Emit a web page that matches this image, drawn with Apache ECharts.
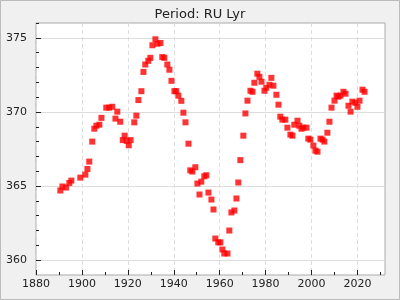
<!DOCTYPE html>
<html>
<head>
<meta charset="utf-8">
<script src="https://cdn.jsdelivr.net/npm/echarts@6/dist/echarts.min.js"></script>
<style>
html,body{margin:0;padding:0;background:#f0f0f0;}
#c{width:400px;height:300px;}
</style>
</head>
<body>
<div id="c"></div>
<script>
const titleText = "Period: RU Lyr";
const years = [1890.6,1891.5,1893.1,1894.5,1895.4,1899.3,1901.5,1902.4,1903.2,1904.5,1905.4,1906.3,1907.6,1908.5,1910.6,1911.9,1913.2,1914.6,1915.4,1916.7,1917.8,1918.6,1919.5,1920.4,1921.2,1922.8,1923.7,1924.6,1925.9,1926.8,1927.6,1928.9,1929.8,1930.7,1932.0,1932.9,1934.2,1935.0,1935.9,1937.2,1938.1,1939.0,1940.3,1941.1,1942.0,1943.3,1944.2,1945.1,1946.4,1947.2,1948.1,1949.4,1950.3,1951.2,1952.0,1953.3,1954.2,1955.1,1956.4,1957.3,1958.1,1959.4,1960.3,1961.2,1962.0,1963.4,1964.2,1965.1,1966.4,1967.3,1968.1,1969.0,1970.3,1971.2,1972.1,1973.4,1974.3,1975.1,1976.4,1977.3,1978.2,1979.5,1980.3,1981.7,1982.5,1983.4,1984.7,1985.6,1986.4,1987.3,1988.6,1989.5,1990.8,1991.7,1992.5,1993.9,1994.7,1995.6,1996.4,1997.8,1998.6,1999.5,2000.8,2001.7,2002.6,2003.9,2004.8,2005.6,2006.9,2007.8,2008.7,2010.0,2010.9,2011.7,2012.6,2013.9,2014.8,2016.1,2017.0,2017.8,2019.1,2020.0,2020.9,2022.2,2023.1];
const periods = [364.70,364.97,364.90,365.21,365.37,365.57,365.77,366.15,366.65,368.0,368.87,369.07,369.14,369.6,370.29,370.29,370.35,369.55,370.02,369.34,368.1,368.4,368.05,367.75,368.1,369.3,369.75,370.8,371.4,372.7,373.2,373.45,373.65,374.5,374.9,374.6,374.65,373.7,373.65,373.2,372.85,372.1,371.4,371.4,371.1,370.75,369.95,369.3,367.86,366.06,365.98,366.27,365.17,364.43,365.3,365.66,365.73,364.56,364.09,363.42,361.46,361.2,361.2,360.72,360.45,360.45,362.0,363.22,363.35,364.16,365.24,366.75,368.4,369.9,370.76,371.43,371.36,371.97,372.58,372.37,372.04,371.43,371.63,371.83,372.3,371.77,371.16,370.49,369.68,369.48,369.48,368.94,368.47,368.4,369.14,369.41,369.07,368.87,368.94,368.94,368.2,368.13,367.73,367.39,367.32,368.2,368.13,368.0,368.6,369.34,370.29,370.76,371.1,371.03,371.1,371.36,371.23,370.42,370.02,370.69,370.62,370.35,370.76,371.5,371.36];
const xMajor = [1880,1900,1920,1940,1960,1980,2000,2020];
const xMinor = [1890,1910,1930,1950,1970,1990,2010,2030];
const yMajor = [360,365,370,375];
const yMinor = [361,362,363,364,366,367,368,369,371,372,373,374,376];
const xRange = [1880, 2032];
const yRange = [359, 376];

const chart = echarts.init(document.getElementById('c'), null, {renderer:'canvas'});
const font = 'DejaVu Sans';
const data = years.map((y,i)=>[y, periods[i]]);
const plain = v => String(v);
chart.setOption({
  backgroundColor: '#f0f0f0',
  animation: false,
  title: {text: titleText, left: 'center', top: 3,
    textStyle: {fontFamily: font, fontSize: 13, fontWeight: 'normal', color: '#222'}},
  graphic: [{type:'rect', shape:{x:0.5,y:0.5,width:399,height:299}, style:{fill:'none', stroke:'#bbb', lineWidth:1}, z:-1}],
  grid: {left: 36, right: 15, top: 23, bottom: 25, show: true, backgroundColor: '#fff', borderColor: '#aaa', borderWidth: 1},
  xAxis: [{
    type: 'value', min: xRange[0], max: xRange[1], position: 'bottom',
    axisLine: {show: false},
    axisTick: {show: true, inside: true, length: 5, lineStyle: {color: '#222'}, customValues: xMajor},
    axisLabel: {customValues: xMajor, formatter: plain, fontFamily: font, fontSize: 11, color: '#222', margin: 4},
    splitLine: {show: true, lineStyle: {color: '#ddd', type: [4,3]}}
  },{
    type: 'value', min: xRange[0], max: xRange[1], position: 'bottom',
    axisLine: {show: false},
    axisTick: {show: true, inside: true, length: 3, lineStyle: {color: '#222'}, customValues: xMinor},
    axisLabel: {show: false, customValues: xMinor},
    splitLine: {show: false}
  }],
  yAxis: [{
    type: 'value', min: yRange[0], max: yRange[1], position: 'left',
    axisLine: {show: false},
    axisTick: {show: true, inside: true, length: 5, lineStyle: {color: '#222'}, customValues: yMajor},
    axisLabel: {customValues: yMajor, formatter: plain, fontFamily: font, fontSize: 11, color: '#222', margin: 9},
    splitLine: {show: true, lineStyle: {color: '#ddd', type: 'solid'}}
  },{
    type: 'value', min: yRange[0], max: yRange[1], position: 'left',
    axisLine: {show: false},
    axisTick: {show: true, inside: true, length: 3, lineStyle: {color: '#222'}, customValues: yMinor},
    axisLabel: {show: false, customValues: yMinor},
    splitLine: {show: false}
  }],
  series: [{
    type: 'scatter', data: data, symbol: 'rect', symbolSize: 6,
    itemStyle: {color: '#ff0000'}, xAxisIndex: 0, yAxisIndex: 0
  }]
});
</script>
</body>
</html>
